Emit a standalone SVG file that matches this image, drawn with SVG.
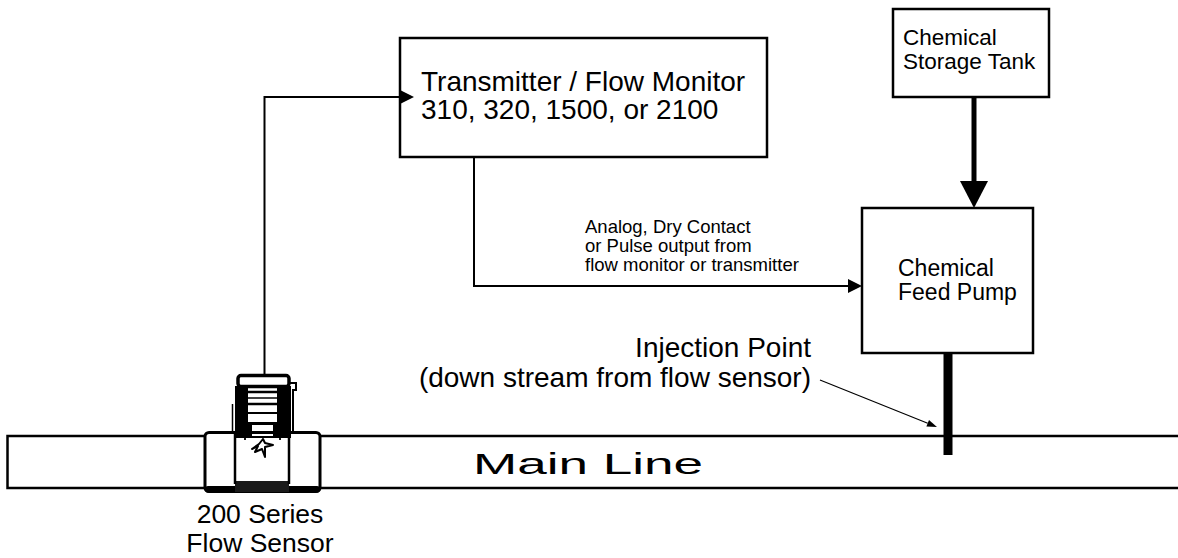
<svg xmlns="http://www.w3.org/2000/svg" width="1178" height="558" viewBox="0 0 1178 558">
<style>
.box{fill:#fff;stroke:#000;stroke-width:2.5}
.t{font-family:"Liberation Sans",Arial,Helvetica,sans-serif;fill:#000}
.con{fill:none;stroke:#000;stroke-width:2}
.blk{fill:#000}
.ln{stroke:#000;fill:none}
</style>
<defs>
<marker id="arr" markerUnits="userSpaceOnUse" markerWidth="14" markerHeight="14" refX="0" refY="7" orient="auto" overflow="visible"><path d="M0,0 L14,7 L0,14 Z" fill="#000"/></marker>
<marker id="arrBig" markerUnits="userSpaceOnUse" markerWidth="28" markerHeight="28" refX="0" refY="14" orient="auto" overflow="visible"><path d="M0,0 L27,14 L0,28 Z" fill="#000"/></marker>
<marker id="arrThin" markerUnits="userSpaceOnUse" markerWidth="10" markerHeight="8" refX="0" refY="3.5" orient="auto" overflow="visible"><path d="M0,0 L10,3.5 L0,7 Z" fill="#000"/></marker>
</defs>
<rect x="0" y="0" width="1178" height="558" fill="#fff"/>

<g id="main-line">
<path d="M1178,436 H7.5 V488 H1178" class="ln" stroke-width="2.5"/>
<text class="t" x="473" y="474" font-size="29" textLength="230" lengthAdjust="spacingAndGlyphs">Main Line</text>
</g>

<g id="transmitter">
<rect class="box" x="400" y="38" width="367" height="119"/>
<text class="t" font-size="28"><tspan x="421" y="91">Transmitter / Flow Monitor</tspan><tspan x="421" y="119">310, 320, 1500, or 2100</tspan></text>
</g>

<g id="output-label">
<text class="t" font-size="18.5"><tspan x="585" y="233">Analog, Dry Contact</tspan><tspan x="585" y="252">or Pulse output from</tspan><tspan x="585" y="271">flow monitor or transmitter</tspan></text>
</g>

<g id="storage-tank">
<rect class="box" x="893" y="9" width="156" height="88"/>
<text class="t" font-size="22.5"><tspan x="903" y="45">Chemical</tspan><tspan x="903" y="69">Storage Tank</tspan></text>
</g>

<g id="feed-pump">
<rect class="box" x="862" y="208" width="171" height="145"/>
<text class="t" font-size="23"><tspan x="898" y="276">Chemical</tspan><tspan x="898" y="300">Feed Pump</tspan></text>
</g>

<g id="injection-point">
<text class="t" font-size="28" text-anchor="end"><tspan x="811" y="357">Injection Point</tspan><tspan x="811" y="387">(down stream from flow sensor)</tspan></text>
</g>

<g id="connectors">
<path class="con" d="M264.5,375 V97 H400" marker-end="url(#arr)"/>
<path class="con" d="M474,157 V286 H848" marker-end="url(#arr)"/>
<path fill="none" stroke="#000" stroke-width="5" d="M974,97 V181" marker-end="url(#arrBig)"/>
<path fill="none" stroke="#000" stroke-width="1.2" d="M820,380 L927.7,423.3" marker-end="url(#arrThin)"/>
<rect class="blk" x="943.5" y="353" width="9" height="102"/>
</g>

<g id="flow-sensor">
<rect x="205" y="432.5" width="115" height="59" rx="4" fill="#fff" stroke="#000" stroke-width="3"/>
<rect class="blk" x="205" y="486" width="115" height="6.5" rx="3"/>
<rect x="235" y="481" width="54" height="11" fill="#1a1a1a"/>
<line class="ln" stroke-width="2.5" x1="235" y1="432" x2="235" y2="484"/>
<line class="ln" stroke-width="2.5" x1="289" y1="432" x2="289" y2="484"/>
<rect class="blk" x="235" y="386" width="13" height="52"/>
<rect class="blk" x="277" y="386" width="14" height="52"/>
<rect x="248" y="386" width="29" height="37" fill="#fff"/>
<line class="ln" stroke-width="2.5" x1="248" y1="392" x2="277" y2="392"/>
<line class="ln" stroke-width="1.5" x1="248" y1="398" x2="277" y2="398"/>
<line class="ln" stroke-width="2.5" x1="248" y1="404" x2="277" y2="404"/>
<line class="ln" stroke-width="2" x1="248" y1="413" x2="277" y2="413"/>
<rect class="blk" x="248" y="422" width="29" height="3"/>
<rect class="blk" x="248" y="422" width="4" height="16"/>
<rect class="blk" x="273" y="422" width="4" height="16"/>
<path class="ln" stroke-width="1.8" d="M245,440 V437 H280 V440"/>
<rect x="238" y="375.5" width="51" height="11" rx="3" fill="#fff" stroke="#000" stroke-width="3.5"/>
<path class="ln" stroke-width="2" d="M290,383 H296 V390 H293 V432"/>
<line class="ln" stroke-width="1.5" x1="232.5" y1="404" x2="232.5" y2="432"/>
<path class="ln" stroke-width="2" stroke-linejoin="round" d="M252,449 L258,446 L255,452 L262,449 L265,457 L265,447 L273,445 L265,443 L263,439 L259,444 Z"/>
<text class="t" font-size="26.5" text-anchor="middle"><tspan x="260" y="523">200 Series</tspan><tspan x="260" y="552">Flow Sensor</tspan></text>
</g>
</svg>
